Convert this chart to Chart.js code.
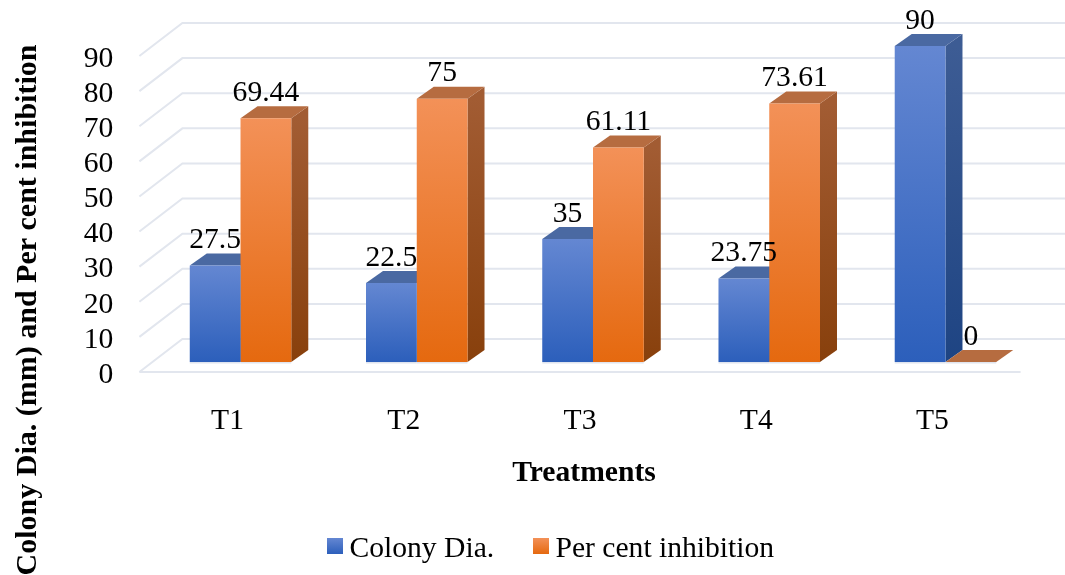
<!DOCTYPE html>
<html>
<head>
<meta charset="utf-8">
<title>Colony diameter and per cent inhibition</title>
<script src="https://cdn.jsdelivr.net/npm/chart.js@4/dist/chart.umd.min.js"></script>
<style>
  html, body { margin: 0; padding: 0; background: #fff; overflow: hidden; }
  canvas { display: block; }
</style>
</head>
<body>
<canvas id="chart" width="1065" height="575"></canvas>
<script>
const categories = ['T1', 'T2', 'T3', 'T4', 'T5'];
const colonyDia = [27.5, 22.5, 35, 23.75, 90];
const perCentInhibition = [69.44, 75, 61.11, 73.61, 0];
const seriesNames = ['Colony Dia.', 'Per cent inhibition'];
const xTitle = 'Treatments';
const yTitle = 'Colony Dia. (mm) and Per cent inhibition';

const FONT = '"Liberation Serif", "Times New Roman", serif';
const SIZE = 29.6;

// depth of a bar and of the wall, in pixels
const BAR_DX = 17, BAR_DY = 12;
const WALL_BACK_DX = 30, WALL_BACK_DY = 23;
const WALL_FRONT_DX = 13, WALL_FRONT_DY = 10;
const GRID = '#e2e6ee';

const palette = [
    { front: ['#6487d2', '#2c5fbb'], side: ['#3d5c94', '#1e4483'], top: '#4a69a2' },
    { front: ['#f39158', '#e5690f'], side: ['#a25c33', '#88400c'], top: '#b66c40' }
];

function frontFill(i) {
    return (ctx) => {
        const chart = ctx.chart;
        if (!chart.chartArea || ctx.parsed === undefined) return palette[i].front[1];
        const y = chart.scales.y;
        const g = chart.ctx.createLinearGradient(0, y.getPixelForValue(ctx.parsed.y), 0, y.getPixelForValue(0));
        g.addColorStop(0, palette[i].front[0]);
        g.addColorStop(1, palette[i].front[1]);
        return g;
    };
}

const wallAndFaces = {
    id: 'wallAndFaces',
    beforeDatasetsDraw(chart) {
        const c = chart.ctx;
        const y = chart.scales.y;
        const area = chart.chartArea;
        c.save();
        c.strokeStyle = GRID;
        c.lineWidth = 2;
        y.ticks.forEach(t => {
            const p = y.getPixelForValue(t.value);
            c.beginPath();
            c.moveTo(area.left - WALL_FRONT_DX, p + WALL_FRONT_DY);
            c.lineTo(area.left + WALL_BACK_DX, p - WALL_BACK_DY);
            c.lineTo(chart.width, p - WALL_BACK_DY);
            c.stroke();
        });
        // floor edge
        const p0 = y.getPixelForValue(0);
        c.beginPath();
        c.moveTo(area.left - WALL_FRONT_DX, p0 + WALL_FRONT_DY);
        c.lineTo(area.right - WALL_FRONT_DX, p0 + WALL_FRONT_DY);
        c.stroke();

        // side and top faces go under the native fronts
        chart.data.datasets.forEach((ds, i) => {
            chart.getDatasetMeta(i).data.forEach(bar => {
                const l = bar.x - bar.width / 2, r = bar.x + bar.width / 2;
                const side = c.createLinearGradient(0, bar.y, 0, p0);
                side.addColorStop(0, palette[i].side[0]);
                side.addColorStop(1, palette[i].side[1]);
                c.fillStyle = side;
                c.beginPath();
                c.moveTo(r, bar.y);
                c.lineTo(r + BAR_DX, bar.y - BAR_DY);
                c.lineTo(r + BAR_DX, p0 - BAR_DY);
                c.lineTo(r, p0);
                c.closePath();
                c.fill();
                c.fillStyle = palette[i].top;
                c.beginPath();
                c.moveTo(l, bar.y);
                c.lineTo(l + BAR_DX, bar.y - BAR_DY);
                c.lineTo(r + BAR_DX, bar.y - BAR_DY);
                c.lineTo(r, bar.y);
                c.closePath();
                c.fill();
                c.fillStyle = '#dfe4ee';
                c.fillRect(l, p0, bar.width, 1.5);
            });
        });
        c.restore();
    },
    afterDatasetsDraw(chart) {
        const c = chart.ctx;
        c.save();
        c.fillStyle = '#000';
        c.textAlign = 'center';
        c.textBaseline = 'middle';
        c.font = SIZE + 'px ' + FONT;
        chart.data.datasets.forEach((ds, i) => {
            chart.getDatasetMeta(i).data.forEach((bar, j) => {
                c.fillText(String(ds.data[j]), bar.x, bar.y - 25);
            });
        });
        c.restore();
    },
    afterDraw(chart) {
        const c = chart.ctx;
        c.save();
        c.fillStyle = '#000';
        c.textBaseline = 'middle';

        // axis titles
        c.font = 'bold ' + SIZE + 'px ' + FONT;
        c.textAlign = 'center';
        c.fillText(xTitle, 584, 473);
        c.font = 'bold 30px ' + FONT;
        c.translate(28, 310);
        c.rotate(-Math.PI / 2);
        c.fillText(yTitle, 0, 0);
        c.setTransform(1, 0, 0, 1, 0, 0);

        // legend
        c.font = SIZE + 'px ' + FONT;
        c.textAlign = 'left';
        const swatchX = [327, 533];
        seriesNames.forEach((name, i) => {
            const g = c.createLinearGradient(0, 538, 0, 554);
            g.addColorStop(0, palette[i].front[0]);
            g.addColorStop(1, palette[i].front[1]);
            c.fillStyle = g;
            c.fillRect(swatchX[i], 538, 16, 16);
            c.fillStyle = '#000';
            c.fillText(name, swatchX[i] + 22.5, 549);
        });
        c.restore();
    }
};

new Chart(document.getElementById('chart'), {
    type: 'bar',
    data: {
        labels: categories,
        datasets: [
            { label: seriesNames[0], data: colonyDia, backgroundColor: frontFill(0) },
            { label: seriesNames[1], data: perCentInhibition, backgroundColor: frontFill(1) }
        ]
    },
    options: {
        responsive: false,
        animation: false,
        devicePixelRatio: 1,
        layout: { padding: { left: 0, right: 31.4, top: 46, bottom: 0 } },
        datasets: { bar: { categoryPercentage: 0.576, barPercentage: 1, borderWidth: 0 } },
        plugins: {
            legend: { display: false },
            tooltip: { enabled: false }
        },
        scales: {
            x: {
                afterFit: (s) => { s.height = 213; },
                grid: { display: false, drawTicks: false },
                border: { display: false },
                ticks: {
                    color: '#000',
                    padding: 41,
                    labelOffset: -13,
                    maxRotation: 0,
                    font: { family: FONT, size: SIZE }
                }
            },
            y: {
                min: 0,
                max: 90,
                afterFit: (s) => { s.width = 152.4; s.paddingTop = 0; s.paddingBottom = 0; },
                grid: { display: false, drawTicks: false },
                border: { display: false },
                ticks: {
                    stepSize: 10,
                    autoSkip: false,
                    color: '#000',
                    padding: 39,
                    labelOffset: 13,
                    font: { family: FONT, size: SIZE }
                }
            }
        }
    },
    plugins: [wallAndFaces]
});
</script>
</body>
</html>
